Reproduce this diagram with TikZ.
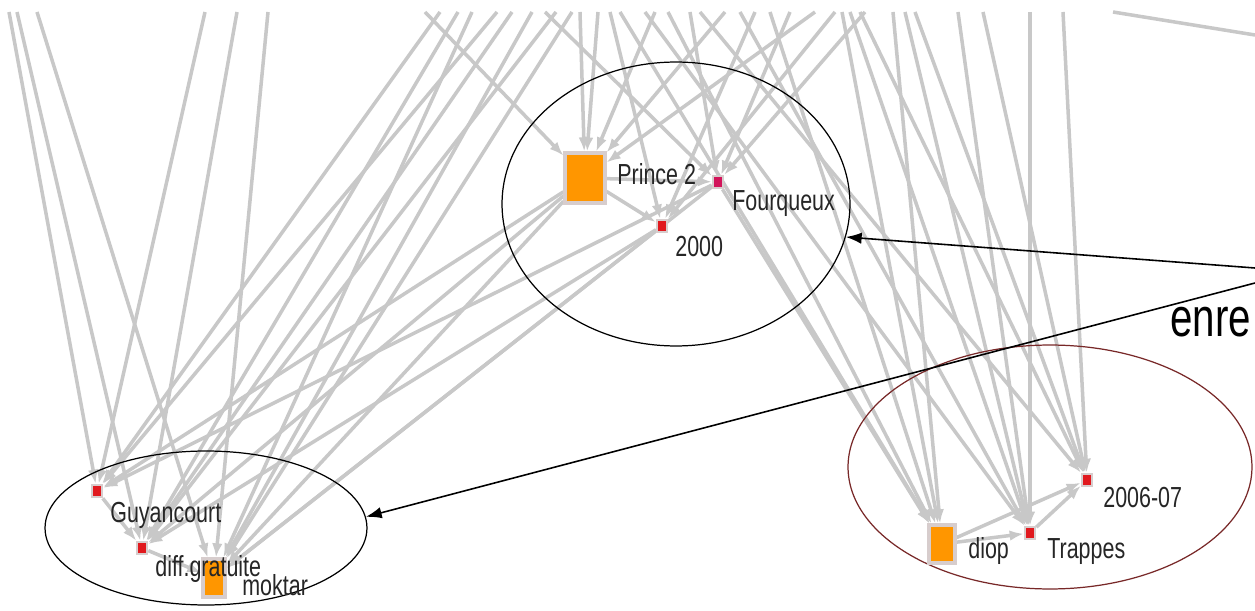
\documentclass[tikz,border=0pt]{standalone}
\usepackage{fontspec}
\setmainfont{Liberation Sans}
\newfontfamily\netfont[FakeStretch=0.74]{Liberation Sans}
\usetikzlibrary{arrows.meta, shapes.geometric, backgrounds}

\definecolor{edgegray}{RGB}{200,200,200}
\definecolor{vertorange}{RGB}{255,150,0}
\definecolor{vertred}{RGB}{225,25,30}
\definecolor{vertpink}{RGB}{210,20,90}
\definecolor{halo}{RGB}{215,205,205}
\definecolor{grpred}{RGB}{120,40,40}

\begin{document}
\begin{tikzpicture}[
        x=0.02cm, y=-0.02cm,
        edge/.style={draw=edgegray, line width=2pt, -{Latex[length=8pt,width=6pt]}},
        bigvert/.style={draw=halo, line width=1.8pt, fill=vertorange, rectangle, inner sep=0pt},
        smallvert/.style={draw=halo, line width=1.2pt, fill=vertred, rectangle, inner sep=0pt, minimum width=0.21cm, minimum height=0.25cm},
        vlabel/.style={font=\netfont\fontsize{16.5}{18}\selectfont, anchor=base west, inner sep=0pt, text=black!85},
        group/.style={draw, ellipse, line width=0.7pt, inner sep=0pt},
        pointer/.style={draw=black, line width=0.9pt, -{Latex[length=9pt,width=6.5pt]}}
    ]
    \useasboundingbox (0,0) rectangle (1255,611);

    % groups
    \node[group, minimum width=6.96cm, minimum height=5.68cm] (grpPrince) at (676,204) {};
    \node[group, minimum width=6.44cm, minimum height=3.08cm] (grpGuy) at (206,528) {};
    \node[group, draw=grpred, minimum width=8.08cm, minimum height=4.88cm] (grpTrappes) at (1050,467) {};

    % vertices
    \node[bigvert, minimum width=0.8cm, minimum height=1.0cm] (prince) at (585,178) {};
    \node[smallvert, fill=vertpink] (fourq) at (718,182) {};
    \node[smallvert] (y2000) at (662,226) {};

    \node[smallvert] (guy) at (97,491) {};
    \node[smallvert] (diff) at (142,548) {};
    \node[bigvert, minimum width=0.44cm, minimum height=0.76cm] (moktar) at (214,578) {};

    \node[bigvert, minimum width=0.52cm, minimum height=0.76cm] (diop) at (942,544) {};
    \node[smallvert] (trappes) at (1030,533) {};
    \node[smallvert] (y2006) at (1087,480) {};

    % labels
    \node[vlabel] (princeL) at (617,185) {Prince 2};
    \node[vlabel] (fourqL) at (732,211) {Fourqueux};
    \node[vlabel] (y2000L) at (675,257) {2000};
    \node[vlabel] (guyL) at (110,522) {Guyancourt};
    \node[vlabel] (diffL) at (155,576) {diff.gratuite};
    \node[vlabel] (moktarL) at (242,595) {moktar};
    \node[vlabel] (diopL) at (968,558) {diop};
    \node[vlabel] (trappesL) at (1047,558) {Trappes};
    \node[vlabel] (y2006L) at (1103,507) {2006-07};
    \node[font=\netfont\fontsize{31}{34}\selectfont, anchor=base west, inner sep=0pt] (enreL) at (1170,337) {enre};

    % sources outside the view
    \coordinate (srcA) at (1255,268);
    \coordinate (srcB) at (1255,283);
    \coordinate (offR) at (1255,35);
    \coordinate (topX) at (1113,12);

    \coordinate (tL1) at (9,12);    \coordinate (tL2) at (17,12);   \coordinate (tL3) at (37,12);
    \coordinate (tL4) at (205,12);  \coordinate (tL5) at (237,12);  \coordinate (tL6) at (268,12);
    \coordinate (tM1) at (440,12);  \coordinate (tM2) at (458,12);  \coordinate (tM3) at (472,12);
    \coordinate (tM4) at (497,12);  \coordinate (tM5) at (512,12);  \coordinate (tM6) at (532,12);
    \coordinate (tM7) at (556,12);  \coordinate (tM8) at (572,12);
    \coordinate (tP1) at (425,12);  \coordinate (tP2) at (545,12);  \coordinate (tP3) at (580,12);
    \coordinate (tP4) at (598,12);  \coordinate (tP5) at (610,12);  \coordinate (tP6) at (655,12);
    \coordinate (tP7) at (690,12);  \coordinate (tP8) at (725,12);  \coordinate (tP9) at (755,12);
    \coordinate (tP10) at (790,12); \coordinate (tP11) at (815,12); \coordinate (tP12) at (835,12);
    \coordinate (tP13) at (865,12);
    \coordinate (tR1) at (620,12);  \coordinate (tR2) at (645,12);  \coordinate (tR3) at (668,12);
    \coordinate (tR4) at (700,12);  \coordinate (tR5) at (740,12);  \coordinate (tR6) at (770,12);
    \coordinate (tR7) at (842,12);  \coordinate (tR8) at (850,12);  \coordinate (tR9) at (860,12);
    \coordinate (tR10) at (893,12); \coordinate (tR11) at (905,12); \coordinate (tR12) at (915,12);
    \coordinate (tR13) at (958,12); \coordinate (tR14) at (983,12); \coordinate (tR15) at (1030,12);
    \coordinate (tR16) at (1063,12);

    \begin{pgfonlayer}{background}
        \fill[white] (0,0) rectangle (1255,611);

        % left group
        \draw[edge] (tL1) -- (guy);
        \draw[edge] (tL2) -- (diff);
        \draw[edge] (tL3) -- (moktar);
        \draw[edge] (tL4) -- (guy);
        \draw[edge] (tL5) -- (diff);
        \draw[edge] (tL6) -- (moktar);
        \draw[edge] (tM1) -- (guy);
        \draw[edge] (tM2) -- (diff);
        \draw[edge] (tM3) -- (moktar);
        \draw[edge] (tM4) -- (guy);
        \draw[edge] (tM5) -- (diff);
        \draw[edge] (tM6) -- (moktar);
        \draw[edge] (tM7) -- (diff);
        \draw[edge] (tM8) -- (moktar);
        \draw[edge] (prince) -- (guy);
        \draw[edge] (prince) -- (diff);
        \draw[edge] (prince) -- (moktar);
        \draw[edge] (y2000) -- (diff);
        \draw[edge] (y2000) -- (moktar);
        \draw[edge] (fourq) -- (guy);
        \draw[edge] (fourq) -- (moktar);
        \draw[edge] (guy) -- (diff);
        \draw[edge] (diff) -- (moktar);

        % top group
        \draw[edge] (tP1) -- (prince);
        \draw[edge] (tP2) -- (fourq);
        \draw[edge] (tP3) -- (prince);
        \draw[edge] (tP4) -- (prince);
        \draw[edge] (tP5) -- (y2000);
        \draw[edge] (tP6) -- (prince);
        \draw[edge] (tP7) -- (fourq);
        \draw[edge] (tP8) -- (prince);
        \draw[edge] (tP9) -- (y2000);
        \draw[edge] (tP10) -- (fourq);
        \draw[edge] (tP11) -- (prince);
        \draw[edge] (tP12) -- (y2000);
        \draw[edge] (tP13) -- (fourq);
        \draw[edge] (prince) -- (y2000);
        \draw[edge] (prince) -- (fourq);

        % right group
        \draw[edge] (tR1) -- (diop);
        \draw[edge] (tR2) -- (trappes);
        \draw[edge] (tR3) -- (diop);
        \draw[edge] (tR4) -- (y2006);
        \draw[edge] (tR5) -- (trappes);
        \draw[edge] (tR6) -- (diop);
        \draw[edge] (tR7) -- (diop);
        \draw[edge] (tR8) -- (trappes);
        \draw[edge] (tR9) -- (y2006);
        \draw[edge] (tR10) -- (diop);
        \draw[edge] (tR11) -- (trappes);
        \draw[edge] (tR12) -- (y2006);
        \draw[edge] (tR13) -- (trappes);
        \draw[edge] (tR14) -- (y2006);
        \draw[edge] (tR15) -- (trappes);
        \draw[edge] (tR16) -- (y2006);
        \draw[edge] (fourq) -- (diop);
        \draw[edge] (diop) -- (trappes);
        \draw[edge] (trappes) -- (y2006);
        \draw[edge] (diop) -- (y2006);

        \draw[edge, -] (topX) -- (offR);
    \end{pgfonlayer}

    % pointers to the groups
    \draw[pointer] (srcA) -- (grpPrince.-11);
    \draw[pointer] (srcB) -- (grpGuy.4);

\end{tikzpicture}
\end{document}
